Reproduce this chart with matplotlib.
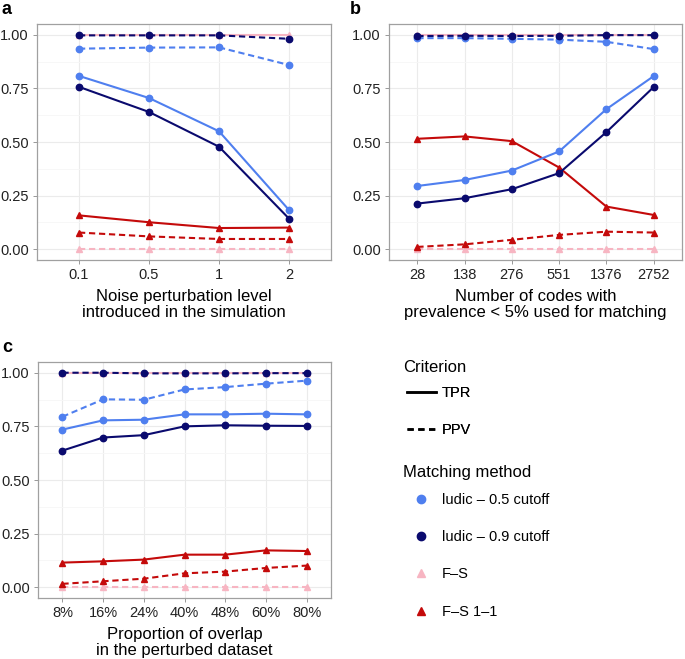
import matplotlib
matplotlib.use("Agg")
import matplotlib.pyplot as plt
from matplotlib.lines import Line2D

plt.rcParams['font.family'] = ['Liberation Sans', 'DejaVu Sans']

# panel a: noise level
noise_levels = ["0.1", "0.5", "1", "2"]
a_ludic05_tpr = [0.808, 0.705, 0.55, 0.183]
a_ludic09_tpr = [0.757, 0.64, 0.478, 0.143]
a_ludic05_ppv = [0.935, 0.94, 0.941, 0.859]
a_ludic09_ppv = [0.997, 0.997, 0.997, 0.981]
a_fs_tpr = [1.0, 1.0, 1.0, 1.0]
a_fs_ppv = [0.0, 0.0, 0.0, 0.0]
a_fs11_tpr = [0.158, 0.126, 0.099, 0.101]
a_fs11_ppv = [0.078, 0.060, 0.048, 0.048]

# panel b: number of codes
n_codes = ["28", "138", "276", "551", "1376", "2752"]
b_ludic05_tpr = [0.295, 0.323, 0.367, 0.456, 0.653, 0.807]
b_ludic09_tpr = [0.213, 0.238, 0.280, 0.355, 0.546, 0.756]
b_ludic05_ppv = [0.984, 0.984, 0.981, 0.977, 0.967, 0.933]
b_ludic09_ppv = [0.994, 0.995, 0.994, 0.995, 0.998, 0.998]
b_fs_tpr = [1.0, 1.0, 1.0, 1.0, 1.0, 1.0]
b_fs_ppv = [0.0, 0.0, 0.0, 0.0, 0.0, 0.0]
b_fs11_tpr = [0.515, 0.526, 0.504, 0.381, 0.199, 0.160]
b_fs11_ppv = [0.011, 0.023, 0.044, 0.067, 0.082, 0.078]

# panel c: overlap proportion
overlap = ["8%", "16%", "24%", "40%", "48%", "60%", "80%"]
c_ludic05_tpr = [0.735, 0.778, 0.781, 0.806, 0.806, 0.809, 0.806]
c_ludic09_tpr = [0.637, 0.698, 0.709, 0.750, 0.755, 0.753, 0.752]
c_ludic05_ppv = [0.795, 0.876, 0.874, 0.922, 0.933, 0.949, 0.963]
c_ludic09_ppv = [1.0, 1.0, 0.997, 0.997, 0.997, 0.998, 0.998]
c_fs_tpr = [1.0] * 7
c_fs_ppv = [0.0] * 7
c_fs11_tpr = [0.115, 0.121, 0.129, 0.152, 0.152, 0.172, 0.169]
c_fs11_ppv = [0.016, 0.028, 0.040, 0.065, 0.073, 0.090, 0.101]

methods = ["ludic \u2013 0.5 cutoff", "ludic \u2013 0.9 cutoff", "F\u2013S", "F\u2013S 1\u20131"]
colors = ["#4F7FEF", "#0A0A6E", "#F7B5C2", "#C40A0A"]
markers = ["o", "o", "^", "^"]
dash = (0, (3, 1.8))

fig = plt.figure(figsize=(6.85, 6.59), dpi=100)
W, H = 685, 659


def box(l, t, r, b):
    return [l / W, 1 - b / H, (r - l) / W, (b - t) / H]


def panel(ax, cats, tprs, ppvs, xlabel):
    x = list(range(len(cats)))
    # pink F-S drawn first so the others sit on top
    for i in [2, 3, 0, 1]:
        ax.plot(x, ppvs[i], color=colors[i], ls=dash, lw=1.5,
                marker=markers[i], ms=4.6, zorder=3)
        ax.plot(x, tprs[i], color=colors[i], ls='-', lw=1.5,
                marker=markers[i], ms=4.6, zorder=3)
    ax.set_xlim(-0.6, len(cats) - 0.4)
    ax.set_ylim(-0.05, 1.05)
    ax.set_xticks(x)
    ax.set_xticklabels(cats)
    ax.set_yticks([0, 0.25, 0.5, 0.75, 1.0])
    ax.set_yticklabels(["0.00", "0.25", "0.50", "0.75", "1.00"])
    ax.set_yticks([0.125, 0.375, 0.625, 0.875], minor=True)
    ax.grid(True, which='major', color='#EBEBEB', lw=0.8, zorder=0)
    ax.grid(True, which='minor', axis='y', color='#F6F6F6', lw=0.6, zorder=0)
    ax.set_axisbelow(True)
    ax.tick_params(which='major', length=3, width=0.6, color='#888888',
                   labelsize=10.5, labelcolor='#222222', pad=3)
    ax.tick_params(which='minor', length=0)
    for s in ax.spines.values():
        s.set_color('#A0A0A0')
        s.set_linewidth(0.9)
    ax.set_xlabel(xlabel, fontsize=12, labelpad=5, linespacing=1.1)


ax_a = fig.add_axes(box(37, 24, 331, 260))
panel(ax_a, noise_levels,
      [a_ludic05_tpr, a_ludic09_tpr, a_fs_tpr, a_fs11_tpr],
      [a_ludic05_ppv, a_ludic09_ppv, a_fs_ppv, a_fs11_ppv],
      "Noise perturbation level\nintroduced in the simulation")

ax_b = fig.add_axes(box(389, 24, 682, 260))
panel(ax_b, n_codes,
      [b_ludic05_tpr, b_ludic09_tpr, b_fs_tpr, b_fs11_tpr],
      [b_ludic05_ppv, b_ludic09_ppv, b_fs_ppv, b_fs11_ppv],
      "Number of codes with\nprevalence < 5% used for matching")

ax_c = fig.add_axes(box(38, 362, 331, 598))
panel(ax_c, overlap,
      [c_ludic05_tpr, c_ludic09_tpr, c_fs_tpr, c_fs11_tpr],
      [c_ludic05_ppv, c_ludic09_ppv, c_fs_ppv, c_fs11_ppv],
      "Proportion of overlap\nin the perturbed dataset")

fig.text(2 / W, 1 - 10 / H, "a", fontsize=13, fontweight='bold', va='center')
fig.text(350 / W, 1 - 10 / H, "b", fontsize=13, fontweight='bold', va='center')
fig.text(2 / W, 1 - 347 / H, "c", fontsize=13, fontweight='bold', va='center')

# legends (titles as separate text so the spacing can follow the original)
fig.text(403 / W, 1 - 367 / H, "Criterion", fontsize=12, va='center')
fig.text(403 / W, 1 - 473 / H, "Matching method", fontsize=12, va='center')

crit_handles = [Line2D([], [], color='black', ls='-', lw=1.8),
                Line2D([], [], color='black', ls=(0, (2.5, 1.8)), lw=1.8)]
leg1 = fig.legend(crit_handles, ["TPR", "PPV"],
                  loc='upper left', bbox_to_anchor=(401 / W, 1 - 380 / H),
                  frameon=False, fontsize=10.5, borderaxespad=0,
                  handlelength=2.0, labelspacing=1.6, handletextpad=0.42)

meth_handles = [Line2D([], [], color=colors[i], ls='none', marker=markers[i], ms=6)
                for i in range(4)]
leg2 = fig.legend(meth_handles, methods,
                  loc='upper left', bbox_to_anchor=(401 / W, 1 - 487 / H),
                  frameon=False, fontsize=10.5, borderaxespad=0,
                  handlelength=2.0, labelspacing=1.6, handletextpad=0.42)
fig.add_artist(leg1)

fig.savefig("out.png", dpi=100)
